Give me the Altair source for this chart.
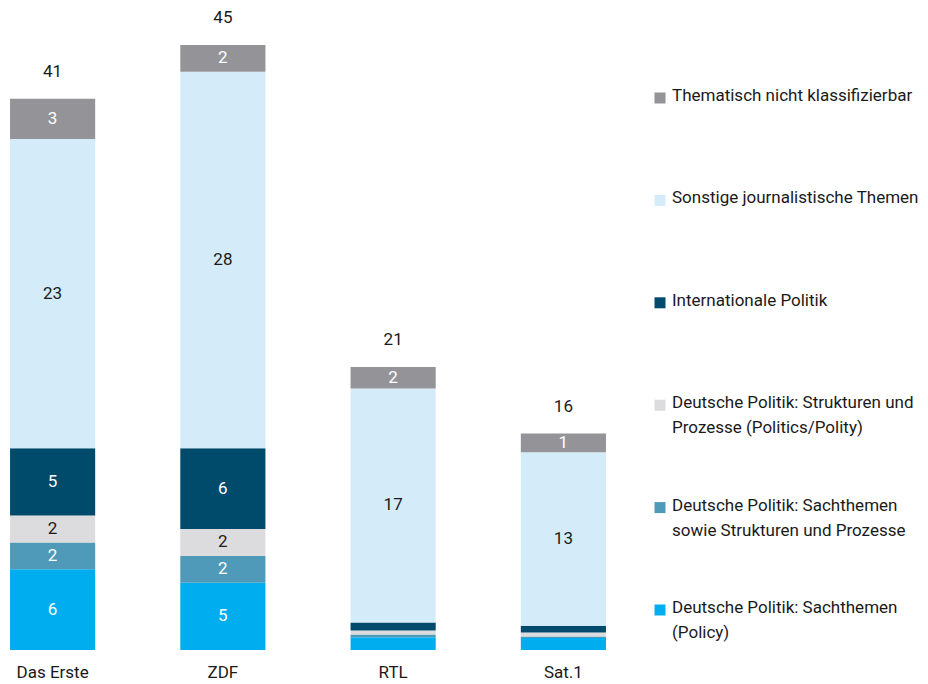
import altair as alt
import pandas as pd

channels = ["Das Erste", "ZDF", "RTL", "Sat.1"]
topics = [
    "Deutsche Politik: Sachthemen (Policy)",
    "Deutsche Politik: Sachthemen sowie Strukturen und Prozesse",
    "Deutsche Politik: Strukturen und Prozesse (Politics/Polity)",
    "Internationale Politik",
    "Sonstige journalistische Themen",
    "Thematisch nicht klassifizierbar",
]
legend_text = [
    "Deutsche Politik: Sachthemen\n(Policy)",
    "Deutsche Politik: Sachthemen\nsowie Strukturen und Prozesse",
    "Deutsche Politik: Strukturen und\nProzesse (Politics/Polity)",
    "Internationale Politik",
    "Sonstige journalistische Themen",
    "Thematisch nicht klassifizierbar",
]
colors = ["#00aeef", "#4f9ab8", "#dcdcde", "#004a6b", "#d4ebf9", "#939398"]
light_topics = [topics[2], topics[4]]

# values per topic, in channel order
policy = [6, 5, 0.95, 0.9]
sach_struktur = [2, 2, 0.2, 0.1]
strukturen = [2, 2, 0.3, 0.3]
international = [5, 6, 0.6, 0.5]
sonstige = [23, 28, 17.4, 12.9]
nicht_klass = [3, 2, 1.6, 1.4]
series = [policy, sach_struktur, strukturen, international, sonstige, nicht_klass]

rows = []
for ti, (t, vals) in enumerate(zip(topics, series)):
    for c, v in zip(channels, vals):
        rows.append({"channel": c, "topic": t, "order": ti, "value": v})
df = pd.DataFrame(rows)

FONT = "Roboto"
FS = 17
color_scale = alt.Scale(domain=topics, range=colors)

base = alt.Chart(df)
x_enc = alt.X(
    "channel:N",
    sort=channels,
    scale=alt.Scale(paddingInner=0.5, paddingOuter=0.012),
    axis=alt.Axis(title=None, domain=False, ticks=False, labelAngle=0,
                  labelFontSize=FS, labelFont=FONT, labelColor="#1a1a1a",
                  labelPadding=14),
)
y_scale = alt.Scale(domain=[0, 47.6], nice=False)

bars = base.mark_bar().encode(
    x=x_enc,
    y=alt.Y("value:Q", stack="zero", scale=y_scale, axis=None),
    color=alt.Color("topic:N", scale=color_scale, legend=None),
    order=alt.Order("order:Q", sort="ascending"),
)

seg_labels = base.transform_stack(
    stack="value", groupby=["channel"],
    sort=[alt.SortField("order", order="ascending")],
    as_=["y0", "y1"],
).transform_calculate(
    mid="(datum.y0 + datum.y1) / 2",
    lbl="format(round(datum.value), 'd')",
    light="indexof(" + str(light_topics).replace("'", '"') + ", datum.topic) >= 0",
).transform_filter("datum.value >= 1").mark_text(
    fontSize=FS, font=FONT, baseline="middle"
).encode(
    x=alt.X("channel:N", sort=channels),
    y=alt.Y("mid:Q", scale=y_scale),
    text="lbl:N",
    color=alt.condition("datum.light", alt.value("#1a1a1a"), alt.value("white")),
)

totals = base.transform_aggregate(
    total="sum(value)", groupby=["channel"]
).transform_calculate(
    lbl="format(round(datum.total), 'd')"
).mark_text(fontSize=FS, font=FONT, baseline="alphabetic", dy=-22, color="#1a1a1a").encode(
    x=alt.X("channel:N", sort=channels),
    y=alt.Y("total:Q", scale=y_scale),
    text="lbl:N",
)

main = alt.layer(bars, seg_labels, totals).properties(width=600, height=640)

leg_df = pd.DataFrame({
    "topic": topics,
    "label": legend_text,
    "rank": [5, 4, 3, 2, 1, 0],
})
leg_y = alt.Y("rank:Q", scale=alt.Scale(domain=[-88 / 102.4, 552 / 102.4], reverse=True, nice=False, zero=False), axis=None)
leg_base = alt.Chart(leg_df)
leg_sq = leg_base.mark_square(size=121, opacity=1).encode(
    x=alt.value(10),
    y=leg_y,
    color=alt.Color("topic:N", scale=color_scale, legend=None),
)
leg_txt = leg_base.transform_calculate(
    lines="split(datum.label, '\\n')"
).mark_text(align="left", baseline="top", dy=-10, fontSize=FS, font=FONT,
            lineHeight=25, color="#1a1a1a").encode(
    x=alt.value(22),
    y=leg_y,
    text="lines:N",
)
legend = alt.layer(leg_sq, leg_txt).properties(width=270, height=640)

chart = alt.hconcat(main, legend, spacing=42).properties(padding=0).configure_view(stroke=None)
chart.save("out.html", embed_options={"renderer": "svg", "actions": False})
